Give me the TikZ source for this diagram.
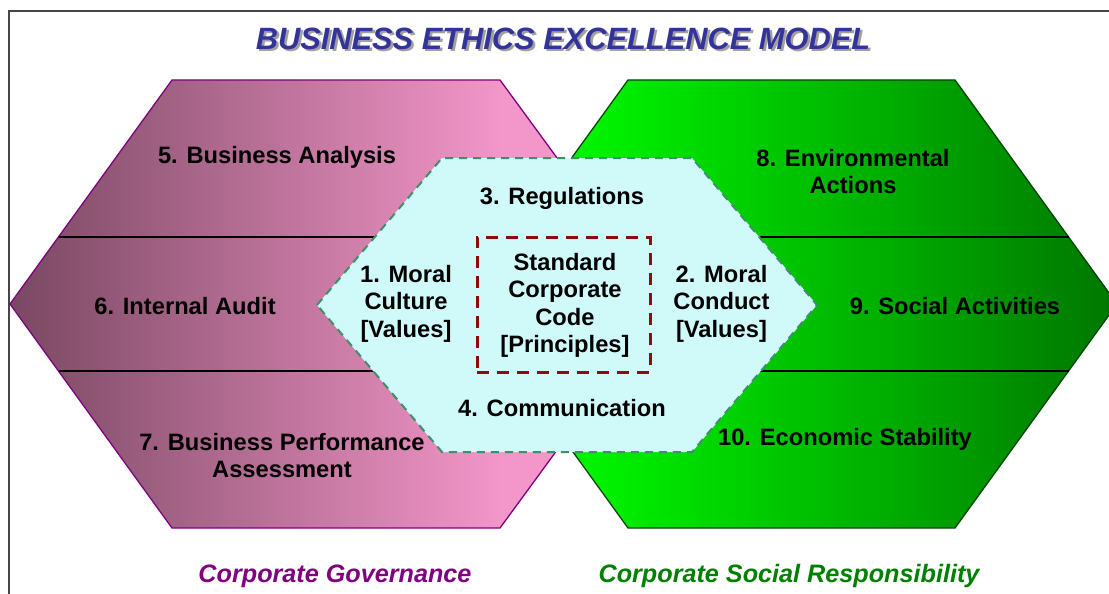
\documentclass[tikz,border=0pt]{standalone}
\usepackage{fontspec}
\setmainfont{Liberation Sans}
\definecolor{framegray}{RGB}{70,70,70}
\definecolor{titleblue}{RGB}{51,51,153}
\definecolor{titleshade}{RGB}{160,160,160}
\definecolor{cgpurple}{RGB}{128,0,128}
\definecolor{pinkdark}{RGB}{122,72,98}
\definecolor{pinklight}{RGB}{243,150,201}
\definecolor{greenlight}{RGB}{0,242,0}
\definecolor{greendark}{RGB}{0,118,0}
\definecolor{greenedge}{RGB}{0,70,0}
\definecolor{csrgreen}{RGB}{0,128,0}
\definecolor{corefill}{RGB}{208,250,250}
\definecolor{coreedge}{RGB}{60,145,105}
\definecolor{codered}{RGB}{140,12,12}
% horizontal fills: 25bp..75bp spans the shape's width
\pgfdeclarehorizontalshading{pinkfade}{100bp}{color(0bp)=(pinkdark); color(25bp)=(pinkdark);
  color(62.5bp)=(pinklight); color(100bp)=(pinklight)}
\pgfdeclarehorizontalshading{greenfade}{100bp}{color(0bp)=(greenlight); color(35bp)=(greenlight);
  color(75bp)=(greendark); color(100bp)=(greendark)}
\newcommand{\shadowtitle}[1]{%
  \makebox[0pt][l]{\hspace{2.5pt}\raisebox{-2pt}{\color{titleshade}#1}}{\color{titleblue}#1}}
\tikzset{
  label/.style={inner sep=0pt, align=center, text=black,
    font=\fontsize{23.7}{27.5}\selectfont\bfseries},
  caption/.style={inner sep=0pt, font=\fontsize{25.2}{29}\selectfont\bfseries\itshape},
  divider/.style={draw=black, line width=1.4pt},
}
\begin{document}
\begin{tikzpicture}[x=1pt,y=-1pt]
\useasboundingbox (0,0) rectangle (1109,594);
\clip (0,0) rectangle (1109,594);

% page frame
\coordinate (fb) at (9,594);
\coordinate (fc) at (9,11);
\coordinate (fr) at (1109,11);
\draw[framegray, line width=2pt] (fb) -- (fc) -- (fr);

% Corporate Governance hexagon
\path[draw=cgpurple, line width=1.3pt, shading=pinkfade]
  (10,304) -- (172,80) -- (500,80) -- (664,304) -- (500,528) -- (172,528) -- cycle;

% Corporate Social Responsibility hexagon
\path[draw=greenedge, line width=1.3pt, shading=greenfade]
  (466,304) -- (628,80) -- (955,80) -- (1117,304) -- (955,528) -- (628,528) -- cycle;

% row dividers
\coordinate (d1a) at (58.5,237);
\coordinate (d1b) at (1068.5,237);
\coordinate (d2a) at (58.5,371);
\coordinate (d2b) at (1068.5,371);
\draw[divider] (d1a) -- (d1b);
\draw[divider] (d2a) -- (d2b);

% core hexagon
\path[fill=corefill, draw=coreedge, line width=2pt, dash pattern=on 8pt off 6pt]
  (317,305) -- (442,158) -- (692,158) -- (817,305) -- (692,452) -- (442,452) -- cycle;

% code box
\node[draw=codered, line width=3pt, dash pattern=on 12pt off 8pt,
      minimum width=173pt, minimum height=135pt, inner sep=0pt] (codebox) at (563.5,304.5) {};

% title with drop shadow
\node[inner sep=0pt, font=\fontsize{30.8}{34}\selectfont\bfseries\itshape] (title) at (563,40)
  {\shadowtitle{BUSINESS ETHICS EXCELLENCE MODEL}};

% labels
\node[label] (l5) at (277,157.5) {5. Business Analysis};
\node[label] (l6) at (185,306.5) {6. Internal Audit};
\node[label] (l7) at (282,455.5) {7. Business Performance\\Assessment};
\node[label] (l8) at (853,171.5) {8. Environmental\\Actions};
\node[label] (l9) at (955,306.5) {9. Social Activities};
\node[label] (l10) at (845,439.5) {10. Economic Stability};
\node[label] (l3) at (562,198.5) {3. Regulations};
\node[label] (l4) at (562,408.5) {4. Communication};
\node[label] (l1) at (406,303.5) {1. Moral\\Culture\\{[Values]}};
\node[label] (l2) at (721.5,303.5) {2. Moral\\Conduct\\{[Values]}};
\node[label] (lc) at (565,305.5) {Standard\\Corporate\\Code\\{[Principles]}};

% captions
\node[caption, text=cgpurple] (cg) at (335,576) {Corporate Governance};
\node[caption, text=csrgreen] (csr) at (789,576) {Corporate Social Responsibility};
\end{tikzpicture}
\end{document}
